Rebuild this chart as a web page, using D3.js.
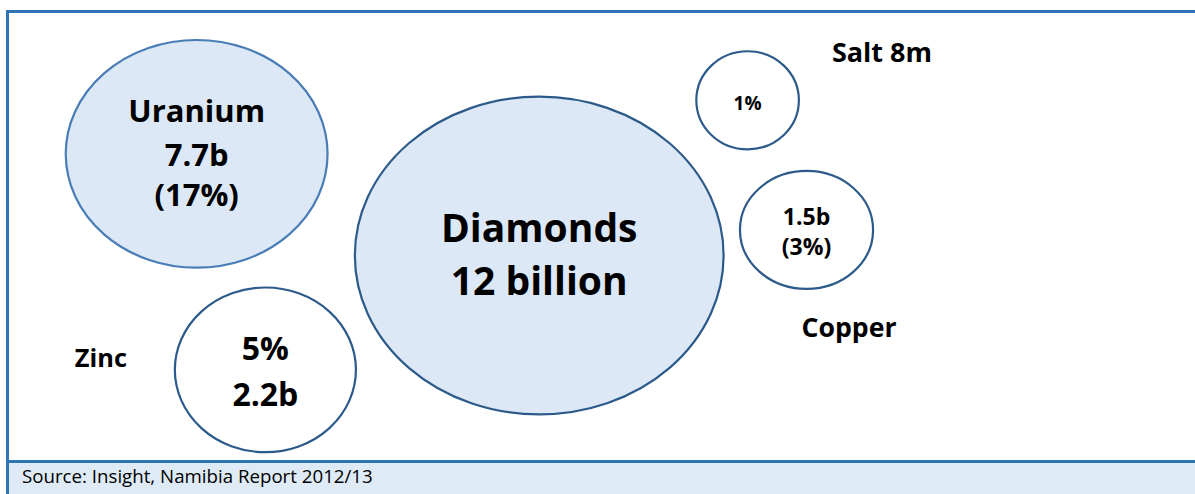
<!DOCTYPE html>
<html>
<head>
<meta charset="utf-8">
<script src="https://cdn.jsdelivr.net/npm/d3@7"></script>
<style>
  html, body { margin: 0; padding: 0; background: #ffffff; }
  svg { display: block; }
  text { font-family: "Open Sans", Lato, sans-serif; fill: #000; }
</style>
</head>
<body>
<svg id="chart" width="1195" height="494"></svg>
<script>
// Namibia mining output by mineral
const minerals   = ["Diamonds", "Uranium", "Zinc", "Copper", "Salt"];
const valueText  = ["12 billion", "7.7b", "2.2b", "1.5b", "8m"];
const shareText  = ["", "17%", "5%", "3%", "1%"];
const sourceNote = "Source: Insight, Namibia Report 2012/13";

// Bubble layout on a 0–100 grid, mapped to pixels through scales
const layout = {
  Diamonds: { cx: 48.6, cy: 53.9, rx: 16.9, ry: 35.3, fill: "#dce8f5", stroke: "#2c5a8a" },
  Uranium:  { cx: 17.2, cy: 31.3, rx: 12.0, ry: 25.3, fill: "#dce8f5", stroke: "#4a7db6" },
  Zinc:     { cx: 23.5, cy: 79.3, rx:  8.3, ry: 18.3, fill: "#ffffff", stroke: "#2c5a8a" },
  Copper:   { cx: 73.1, cy: 48.2, rx:  6.1, ry: 13.1, fill: "#ffffff", stroke: "#2c5a8a" },
  Salt:     { cx: 67.7, cy: 19.4, rx:  4.7, ry: 10.9, fill: "#ffffff", stroke: "#2c5a8a" }
};

const svg = d3.select("#chart");
const W = 1195, H = 494;
const frame = { left: 7.5, top: 11.5, bottom: 461.5 };

const x = d3.scaleLinear().domain([0, 100]).range([9, 1100]);
const y = d3.scaleLinear().domain([0, 100]).range([13, 463]);
const len = d3.scaleLinear().domain([0, 100]).range([0, 1091]);
const lenY = d3.scaleLinear().domain([0, 100]).range([0, 450]);

// footer band
svg.append("rect")
  .attr("x", frame.left).attr("y", frame.bottom)
  .attr("width", W).attr("height", H - frame.bottom + 5)
  .attr("fill", "#deeaf6");

// outer frame
svg.append("path")
  .attr("d", `M${W + 5},${frame.top} H${frame.left} V${H + 5}`)
  .attr("fill", "none").attr("stroke", "#2e75b6").attr("stroke-width", 3);
svg.append("line")
  .attr("x1", frame.left).attr("x2", W + 5)
  .attr("y1", frame.bottom).attr("y2", frame.bottom)
  .attr("stroke", "#2e75b6").attr("stroke-width", 3);

svg.append("text")
  .attr("x", 22).attr("y", 483)
  .style("font-size", "18.7px")
  .text(sourceNote);

const rows = minerals.map((m, i) => ({ name: m, value: valueText[i], share: shareText[i], ...layout[m] }));

svg.append("g").selectAll("ellipse")
  .data(rows)
  .join("ellipse")
  .attr("cx", d => x(d.cx))
  .attr("cy", d => y(d.cy))
  .attr("rx", d => len(d.rx))
  .attr("ry", d => lenY(d.ry))
  .attr("fill", d => d.fill)
  .attr("stroke", d => d.stroke)
  .attr("stroke-width", 2.2);

// text lines for each bubble: [text, dx, dy (baseline offset from centre), size]
const labelLines = {
  Diamonds: [[minerals[0], 0, -13.5, 39], [valueText[0], 0, 39.5, 39]],
  Uranium:  [[minerals[1], 0, -32, 31], [valueText[1], 0, 12.5, 31], [`(${shareText[1]})`, 0, 52, 31]],
  Zinc:     [[`${shareText[2]}`, 0, -10, 32], [valueText[2], 0, 36, 32], [minerals[2], -164.5, -3, 25.4]],
  Copper:   [[valueText[3], 0, -5, 23], [`(${shareText[3]})`, 0, 25, 23], [minerals[3], 42.5, 107, 26.7]],
  Salt:     [[shareText[4], 0, 9.7, 19], [`${minerals[4]} ${valueText[4]}`, 134.4, -38.3, 27]]
};

const g = svg.append("g");
rows.forEach(d => {
  labelLines[d.name].forEach(([t, dx, dy, size]) => {
    g.append("text")
      .attr("x", x(d.cx) + dx)
      .attr("y", y(d.cy) + dy)
      .attr("text-anchor", "middle")
      .style("font-size", size + "px")
      .style("font-weight", 700)
      .text(t);
  });
});
</script>
</body>
</html>
